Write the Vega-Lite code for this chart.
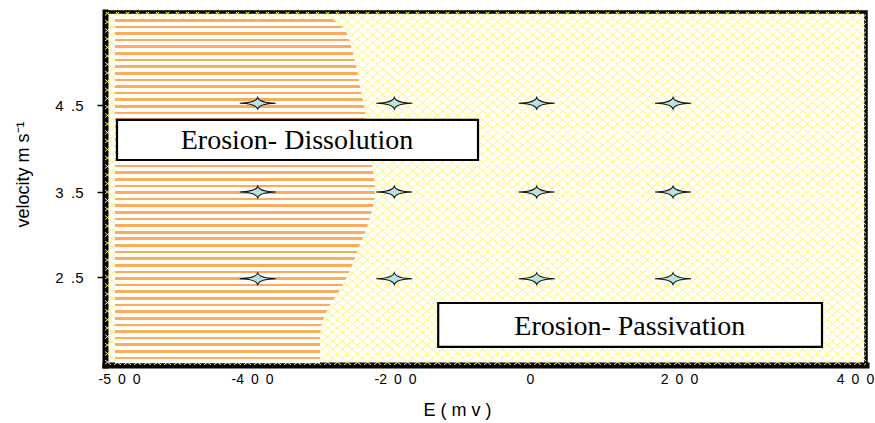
{
"$schema": "https://vega.github.io/schema/vega-lite/v6.json",
"width": 761,
"height": 353,
"autosize": "none",
"padding": {"left": 105, "top": 12, "right": 9, "bottom": 58},
"background": "white",
"datasets": {
"hatch": [{"E": 0, "v": 3.5}],
"boundary": [{"E":-287,"v":5.49},{"E":-270,"v":5.36},{"E":-260,"v":5.13},{"E":-253,"v":4.9},{"E":-248,"v":4.67},{"E":-242,"v":4.44},{"E":-238,"v":4.21},{"E":-234,"v":3.98},{"E":-231,"v":3.75},{"E":-228,"v":3.52},{"E":-232,"v":3.29},{"E":-241,"v":3.05},{"E":-252,"v":2.82},{"E":-263,"v":2.58},{"E":-277,"v":2.35},{"E":-291,"v":2.17},{"E":-301,"v":1.99},{"E":-305,"v":1.76},{"E":-305,"v":1.485}],
"points": [{"E":-392,"v":4.52},{"E":-201,"v":4.52},{"E":9,"v":4.52},{"E":192,"v":4.52},{"E":-392,"v":3.5},{"E":-201,"v":3.5},{"E":9,"v":3.5},{"E":192,"v":3.5},{"E":-392,"v":2.48},{"E":-201,"v":2.48},{"E":9,"v":2.48},{"E":192,"v":2.48}],
"notes": [{"label":"Erosion- Dissolution","E":-337,"v":4.086,"E1":-501.5,"E2":-77,"v1":4.328,"v2":3.868},{"label":"Erosion- Passivation","E":134,"v":1.912,"E1":-136,"E2":362.5,"v1":2.194,"v2":1.677}]
},
"encoding": {
"x": {"field": "E", "type": "quantitative",
 "scale": {"domain": [-510.5,-500,-400,-200,0,200,400,412.5], "range": [0,14,147,290,425,574,750,761], "nice": false, "zero": false},
 "axis": {"title": "E ( m v )", "values": [-500,-400,-200,0,200,400],
  "labelExpr": "datum.value == -500 ? '-5\u20020\u20020' : datum.value == -400 ? '-4\u20020\u20020' : datum.value == -200 ? '-2\u20020\u20020' : datum.value == 0 ? '0' : datum.value == 200 ? '2\u20020\u20020' : '4\u20020\u20020'",
  "ticks": false, "tickSize": 0, "labelPadding": 7, "labelFontSize": 14, "labelFlush": false, "labelOverlap": false,
  "titleFontSize": 18, "titleX": 352, "titleY": 50, "titleBaseline": "alphabetic", "titleAlign": "center"}},
"y": {"field": "v", "type": "quantitative",
 "scale": {"domain": [1.465,2.5,3.5,4.5,5.57], "range": [353,265,180,93,0], "nice": false, "zero": false},
 "axis": {"title": "velocity m s\u207b\u00b9", "values": [2.5,3.5,4.5],
  "labelExpr": "datum.value == 4.5 ? '4\u2002.5' : datum.value == 3.5 ? '3\u2002.5' : '2\u2002.5'",
  "tickSize": 8, "tickWidth": 1.5, "labelPadding": 14, "labelFontSize": 15, "labelFlush": false, "labelOverlap": false,
  "titleFontSize": 18, "titleX": -77, "titleY": 162, "titleAngle": 270, "titleBaseline": "alphabetic", "titleAlign": "center"}}
},
"layer": [
{"data": {"name": "hatch"},
 "mark": {"type": "point", "clip": true, "filled": false, "color": "#fff56e", "strokeWidth": 1, "opacity": 1, "size": 4,
  "shape": "M-860 185l435-370m-425 370l435-370m-425 370l435-370m-425 370l435-370m-425 370l435-370m-425 370l435-370m-425 370l435-370m-425 370l435-370m-425 370l435-370m-425 370l435-370m-425 370l435-370m-425 370l435-370m-425 370l435-370m-425 370l435-370m-425 370l435-370m-425 370l435-370m-425 370l435-370m-425 370l435-370m-425 370l435-370m-425 370l435-370m-425 370l435-370m-425 370l435-370m-425 370l435-370m-425 370l435-370m-425 370l435-370m-425 370l435-370m-425 370l435-370m-425 370l435-370m-425 370l435-370m-425 370l435-370m-425 370l435-370m-425 370l435-370m-425 370l435-370m-425 370l435-370m-425 370l435-370m-425 370l435-370m-425 370l435-370m-425 370l435-370m-425 370l435-370m-425 370l435-370m-425 370l435-370m-425 370l435-370m-425 370l435-370m-425 370l435-370m-425 370l435-370m-425 370l435-370m-425 370l435-370m-425 370l435-370m-425 370l435-370m-425 370l435-370m-425 370l435-370m-425 370l435-370m-425 370l435-370m-425 370l435-370m-425 370l435-370m-425 370l435-370m-425 370l435-370m-425 370l435-370m-425 370l435-370m-425 370l435-370m-425 370l435-370m-425 370l435-370m-425 370l435-370m-425 370l435-370m-425 370l435-370m-425 370l435-370m-425 370l435-370m-425 370l435-370m-425 370l435-370m-425 370l435-370m-425 370l435-370m-425 370l435-370m-425 370l435-370m-425 370l435-370m-425 370l435-370m-425 370l435-370m-425 370l435-370m-425 370l435-370m-425 370l435-370m-425 370l435-370m-425 370l435-370m-425 370l435-370m-425 370l435-370m-425 370l435-370m-425 370l435-370m-425 370l435-370m-425 370l435-370m-425 370l435-370m-425 370l435-370m-425 370l435-370m-425 370l435-370m-425 370l435-370m-425 370l435-370m-425 370l435-370m-425 370l435-370m-425 370l435-370m-425 370l435-370m-425 370l435-370m-425 370l435-370m-425 370l435-370m-425 370l435-370m-425 370l435-370m-425 370l435-370m-425 370l435-370m-425 370l435-370m-425 370l435-370m-425 370l435-370m-425 370l435-370m-425 370l435-370m-425 370l435-370m-425 370l435-370m-425 370l435-370m-425 370l435-370m-425 370l435-370m-425 370l435-370m-425 370l435-370m-425 370l435-370m-425 370l435-370m-425 370l435-370m-425 370l435-370m-425 370l435-370m-425 370l435-370M-860-185l435 370m-425-370l435 370m-425-370l435 370m-425-370l435 370m-425-370l435 370m-425-370l435 370m-425-370l435 370m-425-370l435 370m-425-370l435 370m-425-370l435 370m-425-370l435 370m-425-370l435 370m-425-370l435 370m-425-370l435 370m-425-370l435 370m-425-370l435 370m-425-370l435 370m-425-370l435 370m-425-370l435 370m-425-370l435 370m-425-370l435 370m-425-370l435 370m-425-370l435 370m-425-370l435 370m-425-370l435 370m-425-370l435 370m-425-370l435 370m-425-370l435 370m-425-370l435 370m-425-370l435 370m-425-370l435 370m-425-370l435 370m-425-370l435 370m-425-370l435 370m-425-370l435 370m-425-370l435 370m-425-370l435 370m-425-370l435 370m-425-370l435 370m-425-370l435 370m-425-370l435 370m-425-370l435 370m-425-370l435 370m-425-370l435 370m-425-370l435 370m-425-370l435 370m-425-370l435 370m-425-370l435 370m-425-370l435 370m-425-370l435 370m-425-370l435 370m-425-370l435 370m-425-370l435 370m-425-370l435 370m-425-370l435 370m-425-370l435 370m-425-370l435 370m-425-370l435 370m-425-370l435 370m-425-370l435 370m-425-370l435 370m-425-370l435 370m-425-370l435 370m-425-370l435 370m-425-370l435 370m-425-370l435 370m-425-370l435 370m-425-370l435 370m-425-370l435 370m-425-370l435 370m-425-370l435 370m-425-370l435 370m-425-370l435 370m-425-370l435 370m-425-370l435 370m-425-370l435 370m-425-370l435 370m-425-370l435 370m-425-370l435 370m-425-370l435 370m-425-370l435 370m-425-370l435 370m-425-370l435 370m-425-370l435 370m-425-370l435 370m-425-370l435 370m-425-370l435 370m-425-370l435 370m-425-370l435 370m-425-370l435 370m-425-370l435 370m-425-370l435 370m-425-370l435 370m-425-370l435 370m-425-370l435 370m-425-370l435 370m-425-370l435 370m-425-370l435 370m-425-370l435 370m-425-370l435 370m-425-370l435 370m-425-370l435 370m-425-370l435 370m-425-370l435 370m-425-370l435 370m-425-370l435 370m-425-370l435 370m-425-370l435 370m-425-370l435 370m-425-370l435 370m-425-370l435 370m-425-370l435 370m-425-370l435 370m-425-370l435 370m-425-370l435 370m-425-370l435 370m-425-370l435 370m-425-370l435 370m-425-370l435 370m-425-370l435 370m-425-370l435 370"}},
{"data": {"name": "boundary"},
 "mark": {"type": "area", "orient": "horizontal", "interpolate": "monotone", "opacity": 1, "stroke": null,
  "fill": {"gradient": "linear", "x1": 0, "y1": 0, "x2": 0, "y2": 1, "stops": [
{"offset":0,"color":"#ffab5c"},{"offset":0.00769,"color":"#ffab5c"},{"offset":0.00769,"color":"#ffffff"},{"offset":0.01923,"color":"#ffffff"},
{"offset":0.01923,"color":"#ffab5c"},{"offset":0.02692,"color":"#ffab5c"},{"offset":0.02692,"color":"#ffffff"},{"offset":0.03846,"color":"#ffffff"},
{"offset":0.03846,"color":"#ffab5c"},{"offset":0.04615,"color":"#ffab5c"},{"offset":0.04615,"color":"#ffffff"},{"offset":0.05769,"color":"#ffffff"},
{"offset":0.05769,"color":"#ffab5c"},{"offset":0.06538,"color":"#ffab5c"},{"offset":0.06538,"color":"#ffffff"},{"offset":0.07692,"color":"#ffffff"},
{"offset":0.07692,"color":"#ffab5c"},{"offset":0.08462,"color":"#ffab5c"},{"offset":0.08462,"color":"#ffffff"},{"offset":0.09615,"color":"#ffffff"},
{"offset":0.09615,"color":"#ffab5c"},{"offset":0.10385,"color":"#ffab5c"},{"offset":0.10385,"color":"#ffffff"},{"offset":0.11538,"color":"#ffffff"},
{"offset":0.11538,"color":"#ffab5c"},{"offset":0.12308,"color":"#ffab5c"},{"offset":0.12308,"color":"#ffffff"},{"offset":0.13462,"color":"#ffffff"},
{"offset":0.13462,"color":"#ffab5c"},{"offset":0.14231,"color":"#ffab5c"},{"offset":0.14231,"color":"#ffffff"},{"offset":0.15385,"color":"#ffffff"},
{"offset":0.15385,"color":"#ffab5c"},{"offset":0.16154,"color":"#ffab5c"},{"offset":0.16154,"color":"#ffffff"},{"offset":0.17308,"color":"#ffffff"},
{"offset":0.17308,"color":"#ffab5c"},{"offset":0.18077,"color":"#ffab5c"},{"offset":0.18077,"color":"#ffffff"},{"offset":0.19231,"color":"#ffffff"},
{"offset":0.19231,"color":"#ffab5c"},{"offset":0.2,"color":"#ffab5c"},{"offset":0.2,"color":"#ffffff"},{"offset":0.21154,"color":"#ffffff"},
{"offset":0.21154,"color":"#ffab5c"},{"offset":0.21923,"color":"#ffab5c"},{"offset":0.21923,"color":"#ffffff"},{"offset":0.23077,"color":"#ffffff"},
{"offset":0.23077,"color":"#ffab5c"},{"offset":0.23846,"color":"#ffab5c"},{"offset":0.23846,"color":"#ffffff"},{"offset":0.25,"color":"#ffffff"},
{"offset":0.25,"color":"#ffab5c"},{"offset":0.25769,"color":"#ffab5c"},{"offset":0.25769,"color":"#ffffff"},{"offset":0.26923,"color":"#ffffff"},
{"offset":0.26923,"color":"#ffab5c"},{"offset":0.27692,"color":"#ffab5c"},{"offset":0.27692,"color":"#ffffff"},{"offset":0.28846,"color":"#ffffff"},
{"offset":0.28846,"color":"#ffab5c"},{"offset":0.29615,"color":"#ffab5c"},{"offset":0.29615,"color":"#ffffff"},{"offset":0.30769,"color":"#ffffff"},
{"offset":0.30769,"color":"#ffab5c"},{"offset":0.31538,"color":"#ffab5c"},{"offset":0.31538,"color":"#ffffff"},{"offset":0.32692,"color":"#ffffff"},
{"offset":0.32692,"color":"#ffab5c"},{"offset":0.33462,"color":"#ffab5c"},{"offset":0.33462,"color":"#ffffff"},{"offset":0.34615,"color":"#ffffff"},
{"offset":0.34615,"color":"#ffab5c"},{"offset":0.35385,"color":"#ffab5c"},{"offset":0.35385,"color":"#ffffff"},{"offset":0.36538,"color":"#ffffff"},
{"offset":0.36538,"color":"#ffab5c"},{"offset":0.37308,"color":"#ffab5c"},{"offset":0.37308,"color":"#ffffff"},{"offset":0.38462,"color":"#ffffff"},
{"offset":0.38462,"color":"#ffab5c"},{"offset":0.39231,"color":"#ffab5c"},{"offset":0.39231,"color":"#ffffff"},{"offset":0.40385,"color":"#ffffff"},
{"offset":0.40385,"color":"#ffab5c"},{"offset":0.41154,"color":"#ffab5c"},{"offset":0.41154,"color":"#ffffff"},{"offset":0.42308,"color":"#ffffff"},
{"offset":0.42308,"color":"#ffab5c"},{"offset":0.43077,"color":"#ffab5c"},{"offset":0.43077,"color":"#ffffff"},{"offset":0.44231,"color":"#ffffff"},
{"offset":0.44231,"color":"#ffab5c"},{"offset":0.45,"color":"#ffab5c"},{"offset":0.45,"color":"#ffffff"},{"offset":0.46154,"color":"#ffffff"},
{"offset":0.46154,"color":"#ffab5c"},{"offset":0.46923,"color":"#ffab5c"},{"offset":0.46923,"color":"#ffffff"},{"offset":0.48077,"color":"#ffffff"},
{"offset":0.48077,"color":"#ffab5c"},{"offset":0.48846,"color":"#ffab5c"},{"offset":0.48846,"color":"#ffffff"},{"offset":0.5,"color":"#ffffff"},
{"offset":0.5,"color":"#ffab5c"},{"offset":0.50769,"color":"#ffab5c"},{"offset":0.50769,"color":"#ffffff"},{"offset":0.51923,"color":"#ffffff"},
{"offset":0.51923,"color":"#ffab5c"},{"offset":0.52692,"color":"#ffab5c"},{"offset":0.52692,"color":"#ffffff"},{"offset":0.53846,"color":"#ffffff"},
{"offset":0.53846,"color":"#ffab5c"},{"offset":0.54615,"color":"#ffab5c"},{"offset":0.54615,"color":"#ffffff"},{"offset":0.55769,"color":"#ffffff"},
{"offset":0.55769,"color":"#ffab5c"},{"offset":0.56538,"color":"#ffab5c"},{"offset":0.56538,"color":"#ffffff"},{"offset":0.57692,"color":"#ffffff"},
{"offset":0.57692,"color":"#ffab5c"},{"offset":0.58462,"color":"#ffab5c"},{"offset":0.58462,"color":"#ffffff"},{"offset":0.59615,"color":"#ffffff"},
{"offset":0.59615,"color":"#ffab5c"},{"offset":0.60385,"color":"#ffab5c"},{"offset":0.60385,"color":"#ffffff"},{"offset":0.61538,"color":"#ffffff"},
{"offset":0.61538,"color":"#ffab5c"},{"offset":0.62308,"color":"#ffab5c"},{"offset":0.62308,"color":"#ffffff"},{"offset":0.63462,"color":"#ffffff"},
{"offset":0.63462,"color":"#ffab5c"},{"offset":0.64231,"color":"#ffab5c"},{"offset":0.64231,"color":"#ffffff"},{"offset":0.65385,"color":"#ffffff"},
{"offset":0.65385,"color":"#ffab5c"},{"offset":0.66154,"color":"#ffab5c"},{"offset":0.66154,"color":"#ffffff"},{"offset":0.67308,"color":"#ffffff"},
{"offset":0.67308,"color":"#ffab5c"},{"offset":0.68077,"color":"#ffab5c"},{"offset":0.68077,"color":"#ffffff"},{"offset":0.69231,"color":"#ffffff"},
{"offset":0.69231,"color":"#ffab5c"},{"offset":0.7,"color":"#ffab5c"},{"offset":0.7,"color":"#ffffff"},{"offset":0.71154,"color":"#ffffff"},
{"offset":0.71154,"color":"#ffab5c"},{"offset":0.71923,"color":"#ffab5c"},{"offset":0.71923,"color":"#ffffff"},{"offset":0.73077,"color":"#ffffff"},
{"offset":0.73077,"color":"#ffab5c"},{"offset":0.73846,"color":"#ffab5c"},{"offset":0.73846,"color":"#ffffff"},{"offset":0.75,"color":"#ffffff"},
{"offset":0.75,"color":"#ffab5c"},{"offset":0.75769,"color":"#ffab5c"},{"offset":0.75769,"color":"#ffffff"},{"offset":0.76923,"color":"#ffffff"},
{"offset":0.76923,"color":"#ffab5c"},{"offset":0.77692,"color":"#ffab5c"},{"offset":0.77692,"color":"#ffffff"},{"offset":0.78846,"color":"#ffffff"},
{"offset":0.78846,"color":"#ffab5c"},{"offset":0.79615,"color":"#ffab5c"},{"offset":0.79615,"color":"#ffffff"},{"offset":0.80769,"color":"#ffffff"},
{"offset":0.80769,"color":"#ffab5c"},{"offset":0.81538,"color":"#ffab5c"},{"offset":0.81538,"color":"#ffffff"},{"offset":0.82692,"color":"#ffffff"},
{"offset":0.82692,"color":"#ffab5c"},{"offset":0.83462,"color":"#ffab5c"},{"offset":0.83462,"color":"#ffffff"},{"offset":0.84615,"color":"#ffffff"},
{"offset":0.84615,"color":"#ffab5c"},{"offset":0.85385,"color":"#ffab5c"},{"offset":0.85385,"color":"#ffffff"},{"offset":0.86538,"color":"#ffffff"},
{"offset":0.86538,"color":"#ffab5c"},{"offset":0.87308,"color":"#ffab5c"},{"offset":0.87308,"color":"#ffffff"},{"offset":0.88462,"color":"#ffffff"},
{"offset":0.88462,"color":"#ffab5c"},{"offset":0.89231,"color":"#ffab5c"},{"offset":0.89231,"color":"#ffffff"},{"offset":0.90385,"color":"#ffffff"},
{"offset":0.90385,"color":"#ffab5c"},{"offset":0.91154,"color":"#ffab5c"},{"offset":0.91154,"color":"#ffffff"},{"offset":0.92308,"color":"#ffffff"},
{"offset":0.92308,"color":"#ffab5c"},{"offset":0.93077,"color":"#ffab5c"},{"offset":0.93077,"color":"#ffffff"},{"offset":0.94231,"color":"#ffffff"},
{"offset":0.94231,"color":"#ffab5c"},{"offset":0.95,"color":"#ffab5c"},{"offset":0.95,"color":"#ffffff"},{"offset":0.96154,"color":"#ffffff"},
{"offset":0.96154,"color":"#ffab5c"},{"offset":0.96923,"color":"#ffab5c"},{"offset":0.96923,"color":"#ffffff"},{"offset":0.98077,"color":"#ffffff"},
{"offset":0.98077,"color":"#ffab5c"},{"offset":0.98846,"color":"#ffab5c"},{"offset":0.98846,"color":"#ffffff"},{"offset":1,"color":"#ffffff"}
  ]}},
 "encoding": {"x2": {"datum": -503}}},
{"data": {"name": "points"},
 "mark": {"type": "point", "filled": true, "fill": "#b9e4e6", "stroke": "#111111", "strokeWidth": 1.1, "opacity": 1, "size": 1296,
  "shape": "M-1 0Q-0.1-0.02 0-0.32Q0.1-0.02 1 0Q0.1 0.02 0 0.32Q-0.1 0.02-1 0Z"}},
{"data": {"name": "notes"},
 "mark": {"type": "rect", "fill": "white", "stroke": "black", "strokeWidth": 2.2},
 "encoding": {
  "x": {"field": "E1", "type": "quantitative", "title": "E ( m v )", "scale": {"domain": [-510.5,-500,-400,-200,0,200,400,412.5], "range": [0,14,147,290,425,574,750,761], "nice": false, "zero": false}},
  "x2": {"field": "E2"},
  "y": {"field": "v1", "type": "quantitative", "title": "velocity m s\u207b\u00b9", "scale": {"domain": [1.465,2.5,3.5,4.5,5.57], "range": [353,265,180,93,0], "nice": false, "zero": false}},
  "y2": {"field": "v2"}}},
{"data": {"name": "notes"},
 "mark": {"type": "text", "font": "Liberation Serif", "fontSize": 28, "color": "black", "align": "center", "baseline": "middle"},
 "encoding": {"text": {"field": "label"}}}
],
"config": {
"view": {"stroke": "black", "strokeWidth": 3.5},
"axis": {"domainColor": "black", "domainWidth": 6, "domainCap": "square", "grid": false, "labelColor": "black", "titleColor": "black", "tickColor": "black", "titleFontWeight": "normal", "labelFont": "Liberation Sans", "titleFont": "Liberation Sans"}
}
}
